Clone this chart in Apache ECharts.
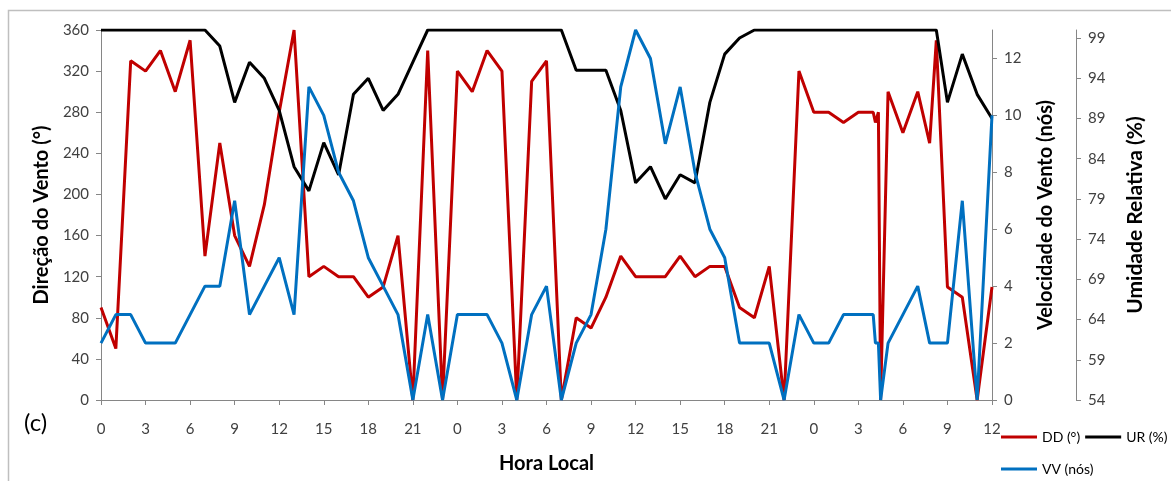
<!DOCTYPE html>
<html>
<head>
<meta charset="utf-8">
<script src="https://cdn.jsdelivr.net/npm/echarts@6/dist/echarts.min.js"></script>
<style>
html,body{margin:0;padding:0;background:#fff;}
#chart{width:1171px;height:481px;}
</style>
</head>
<body>
<div id="chart"></div>
<script>
// Hours since 00 local time of day 1 (x axis: 0..60 h)
const hours = [0,1,2,3,4,5,6,7,8,9,10,11,12,13,14,15,16,17,18,19,20,21,22,23,
  24,25,26,27,28,29,30,31,32,33,34,35,36,37,38,39,40,41,42,43,44,45,46,47,
  48,49,50,51,52,52.15,52.35,52.5,53,54,55,55.8,56.25,57,58,59,60];
// Wind direction (degrees)
const ddValues = [90,50,330,320,340,300,350,140,250,160,130,190,280,360,120,130,120,120,100,110,160,0,340,0,
  320,300,340,320,0,310,330,0,80,70,100,140,120,120,120,140,120,130,130,90,80,130,0,320,
  280,280,270,280,280,270,280,0,300,260,300,250,350,110,100,0,110];
// Relative humidity (%)
const urValues = [100,100,100,100,100,100,100,100,98,91,96,94,90,83,80,86,82,92,94,90,92,96,100,100,
  100,100,100,100,100,100,100,100,95,95,95,90,81,83,79,82,81,91,97,99,100,100,100,100,
  100,100,100,100,100,100,100,100,100,100,100,100,100,91,97,92,89];
// Wind speed (knots)
const vvValues = [2,3,3,2,2,2,3,4,4,7,3,4,5,3,11,10,8,7,5,4,3,0,3,0,
  3,3,3,2,0,3,4,0,2,3,6,11,13,12,9,11,8,6,5,2,2,2,0,3,
  2,2,3,3,3,2,2,0,2,3,4,2,2,2,7,0,10];
const seriesNames = ['DD (°)', 'UR (%)', 'VV (nós)'];
const xTickStep = 3;

const pair = vals => hours.map((h, i) => [h, vals[i]]);
const FONT = 'Lato';
const axisGray = '#868686';
const labelColor = '#404040';

const chart = echarts.init(document.getElementById('chart'), null, {renderer: 'canvas'});
const yBase = {
  type: 'value',
  axisLine: {show: true, lineStyle: {color: axisGray, width: 1}},
  axisTick: {show: true, length: 5, lineStyle: {color: axisGray}},
  splitLine: {show: false},
  nameLocation: 'middle',
  nameRotate: 90,
  nameTextStyle: {fontFamily: FONT, fontSize: 20, fontWeight: 'bold', color: '#000'}
};
const legendText = {fontFamily: FONT, fontSize: 14, color: '#000'};
chart.setOption({
  animation: false,
  backgroundColor: '#fff',
  grid: {left: 101, right: 179, top: 30, bottom: 81, containLabel: false},
  xAxis: {
    type: 'value', min: 0, max: 60, interval: xTickStep,
    axisLine: {lineStyle: {color: axisGray}},
    axisTick: {length: 5, lineStyle: {color: axisGray}},
    splitLine: {show: false},
    axisLabel: {formatter: v => String(v % 24), margin: 22, color: labelColor, fontFamily: FONT, fontSize: 15},
    name: 'Hora Local', nameLocation: 'middle', nameGap: 54,
    nameTextStyle: {fontFamily: FONT, fontSize: 20, fontWeight: 'bold', color: '#000'}
  },
  yAxis: [
    Object.assign({}, yBase, {
      position: 'left', min: 0, max: 360, interval: 40,
      axisLabel: {margin: 12, color: labelColor, fontFamily: FONT, fontSize: 15},
      name: 'Direção do Vento (°)', nameGap: 45
    }),
    Object.assign({}, yBase, {
      position: 'right', min: 0, max: 13, interval: 2,
      axisLabel: {margin: 12, color: labelColor, fontFamily: FONT, fontSize: 15, showMaxLabel: false},
      name: 'Velocidade do Vento (nós)', nameGap: 44
    }),
    Object.assign({}, yBase, {
      position: 'right', offset: 84, min: 54, max: 100, interval: 5,
      axisLabel: {margin: 12, color: labelColor, fontFamily: FONT, fontSize: 15, showMaxLabel: false},
      name: 'Umidade Relativa (%)', nameGap: 49,
      nameTextStyle: {fontFamily: FONT, fontSize: 21, fontWeight: 'bold', color: '#000'}
    })
  ],
  legend: [
    {data: [seriesNames[0], seriesNames[1]], left: 1001, top: 430, width: 300, orient: 'horizontal', padding: 0, icon: 'rect',
     itemWidth: 36, itemHeight: 3, itemGap: 5, textStyle: legendText},
    {data: [seriesNames[2]], left: 1001, top: 462, width: 300, padding: 0, icon: 'rect',
     itemWidth: 36, itemHeight: 3, textStyle: legendText}
  ],
  graphic: [
    {type: 'rect', shape: {x: 8.5, y: 10.5, width: 1200, height: 520}, silent: true, z: -10,
     style: {fill: 'none', stroke: '#BFBFBF', lineWidth: 1.5}},
    {type: 'text', left: 24, top: 411, style: {text: '(c)', fontFamily: FONT, fontSize: 24, fill: '#000'}}
  ],
  series: [
    {name: seriesNames[0], type: 'line', yAxisIndex: 0, data: pair(ddValues), showSymbol: false, symbol: 'none',
     lineStyle: {color: '#C00000', width: 3}, itemStyle: {color: '#C00000'}},
    {name: seriesNames[1], type: 'line', yAxisIndex: 2, data: pair(urValues), showSymbol: false, symbol: 'none',
     lineStyle: {color: '#000000', width: 3}, itemStyle: {color: '#000000'}},
    {name: seriesNames[2], type: 'line', yAxisIndex: 1, data: pair(vvValues), showSymbol: false, symbol: 'none',
     lineStyle: {color: '#0070C0', width: 3}, itemStyle: {color: '#0070C0'}}
  ]
});
</script>
</body>
</html>
